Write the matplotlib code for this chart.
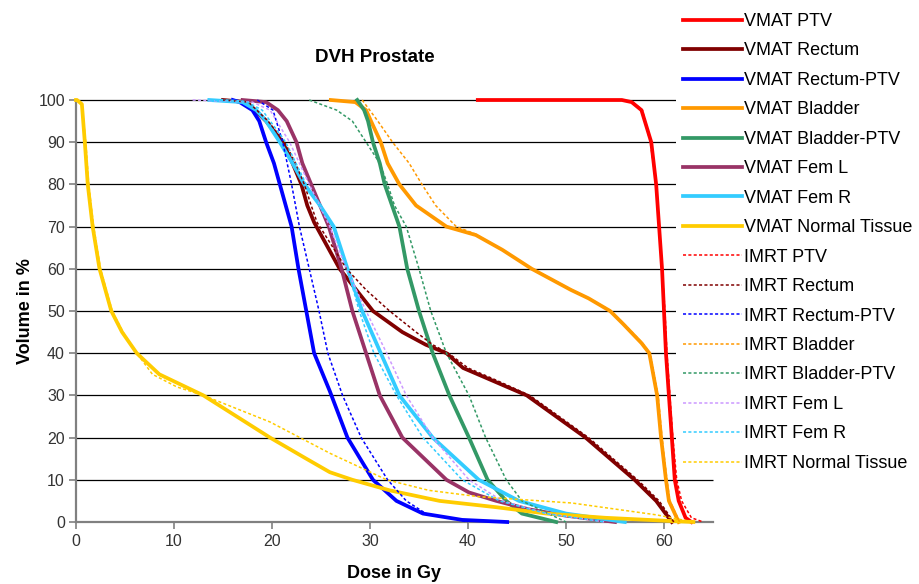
import matplotlib
matplotlib.use('Agg')
import matplotlib.pyplot as plt
import matplotlib.patches as mpatches

plt.rcParams['font.family'] = ['Liberation Sans', 'DejaVu Sans']

# ---- data (dose in Gy, volume in %) ----
vmat_ptv_dose = [41, 55.7, 56.7, 57.7, 58.7, 59.2, 59.5, 59.8, 60.0, 60.2, 60.5, 60.8, 61.1, 61.5, 62.2, 62.8]
vmat_ptv_vol = [100, 100, 99.5, 97.6, 90, 80, 70, 60, 50, 40, 30, 20, 10, 5, 1, 0]

vmat_rectum_dose = [15, 17.4, 19.4, 21.1, 22.1, 23.0, 23.6, 24.3, 26.9, 30.3, 33.3, 35.7, 37.8, 39.5, 42, 46, 52, 57, 59.2, 60.8]
vmat_rectum_vol = [100, 99.5, 95, 90, 85, 80, 75, 71, 60, 50, 45, 42, 40, 36.5, 34, 30, 20, 10, 5, 0]

vmat_rectum_ptv_dose = [16, 16.7, 18.0, 18.7, 19.4, 20.2, 20.8, 21.4, 22.0, 22.7, 23.5, 24.3, 25.9, 27.7, 30.3, 32.7, 35.4, 39.4, 44]
vmat_rectum_ptv_vol = [100, 99.5, 97.6, 95, 90, 85, 80, 75, 70, 60, 50, 40, 31, 20, 10, 5, 2, 0.5, 0]

vmat_bladder_dose = [26, 28.5, 29.6, 30.1, 31.1, 31.8, 33.0, 34.7, 37.8, 40.8, 43.5, 46.5, 50.5, 52.3, 54.5, 55.8, 57.7, 58.5, 59.3, 59.7, 60.2, 60.5, 61.5]
vmat_bladder_vol = [100, 99.5, 97.6, 95, 90, 85, 80, 75, 70, 68, 64.5, 60, 55, 53, 50, 47, 42.4, 40, 30, 20, 10, 5, 0]

vmat_bladder_ptv_dose = [28.7, 29.4, 29.8, 30.3, 31.0, 31.5, 33.0, 33.8, 35.0, 36.4, 38.1, 40.1, 42.0, 43.9, 45.5, 49]
vmat_bladder_ptv_vol = [100, 97.6, 95, 90, 85, 80, 70, 60, 50, 40, 30, 20, 10, 5, 2, 0]

vmat_fem_l_dose = [17, 19.4, 20.6, 21.5, 22.5, 23.1, 24.0, 24.9, 25.8, 27.1, 28.2, 29.6, 31.0, 33.3, 37.8, 40.1, 42.9, 46.2, 50, 55]
vmat_fem_l_vol = [100, 99.5, 97.6, 95, 90, 85, 80, 75, 70, 60, 50, 40, 30, 20, 10, 7, 5, 3, 1.5, 0]

vmat_fem_r_dose = [13.6, 17, 18.4, 19.4, 20.8, 22.1, 23.3, 24.9, 26.3, 27.7, 29.2, 31.1, 33.0, 36.4, 41.1, 45.2, 50, 56]
vmat_fem_r_vol = [100, 99.5, 97.6, 95, 90, 85, 80, 75, 70, 60, 50, 40, 30, 20, 10, 5, 2, 0]

vmat_nt_dose = [0, 0.1, 0.6, 0.9, 1.2, 1.7, 2.4, 3.6, 4.7, 6.2, 8.5, 13, 16.4, 19.8, 23.5, 25.9, 28.2, 32, 37.1, 42.9, 48, 54, 61, 63]
vmat_nt_vol = [100, 100, 99, 90, 80, 70, 60, 50, 45, 40, 35, 30, 25, 20, 15, 11.8, 10, 7.5, 5, 3.5, 2, 1, 0.2, 0]

imrt_ptv_dose = [41, 55.7, 56.8, 57.8, 58.6, 59.2, 59.5, 59.8, 60.1, 60.3, 60.6, 60.9, 61.3, 61.8, 62.8, 64]
imrt_ptv_vol = [100, 100, 99.5, 97.6, 90, 80, 70, 60, 50, 40, 30, 20, 10, 5, 1, 0]

imrt_rectum_dose = [15, 17.6, 19.6, 21.3, 22.4, 23.3, 24.0, 24.6, 27.6, 29.6, 32.0, 34.7, 36.4, 38.0, 40.0, 42.5, 46.3, 52.3, 57.3, 59.5, 61]
imrt_rectum_vol = [100, 99.5, 95, 90, 85, 80, 75, 71, 60, 55, 50, 45, 42, 40, 36.5, 34, 30, 20, 10, 5, 0]

imrt_rectum_ptv_dose = [18.5, 20.1, 21.1, 22.0, 22.8, 23.8, 24.8, 25.7, 27.2, 29.1, 31.8, 33.7, 35.7, 40]
imrt_rectum_ptv_vol = [100, 97.6, 90, 80, 70, 60, 50, 40, 30, 20, 10, 5, 2, 0]

imrt_bladder_dose = [29.2, 30.8, 32.3, 34.0, 35.3, 36.7, 38.8, 40.8, 42.5, 46.6, 50.6, 52.4, 54.6, 55.9, 57.8, 58.6, 59.4, 59.8, 60.3, 60.6, 61.6]
imrt_bladder_vol = [100, 95, 90, 85, 80, 75, 70, 68.2, 65.8, 60, 55, 53, 50, 47, 42.4, 40, 30, 20, 10, 5, 0]

imrt_bladder_ptv_dose = [23.8, 26.6, 28.2, 29.6, 31.0, 31.8, 32.5, 33.7, 35.0, 36.2, 37.8, 40.1, 41.8, 43.9, 45.5, 50]
imrt_bladder_ptv_vol = [100, 97.6, 95, 90, 85, 80, 75, 70, 60, 50, 40, 30, 20, 10, 5, 0]

imrt_fem_l_dose = [11.9, 18, 19.8, 21.8, 23.8, 25.9, 27.6, 29.6, 31.7, 33.7, 36.4, 40.1, 43.5, 48, 54]
imrt_fem_l_vol = [100, 99.5, 97.6, 90, 80, 70, 60, 50, 40, 30, 20, 10, 5, 2, 0]

imrt_fem_r_dose = [13.6, 17.5, 19, 21.4, 23.5, 26.2, 27.7, 28.9, 30.4, 32.7, 35.4, 39.4, 43.2, 48, 54]
imrt_fem_r_vol = [100, 99.5, 97.6, 90, 80, 70, 60, 50, 40, 30, 20, 10, 5, 2, 0]

imrt_nt_dose = [0, 0.1, 0.6, 1.0, 1.3, 1.8, 2.5, 3.7, 4.8, 6.2, 7.8, 10.3, 13, 19.8, 25.9, 31.7, 36, 41.1, 50.6, 59.2, 63]
imrt_nt_vol = [100, 100, 99, 90, 80, 70, 60, 50, 45, 40, 35, 32, 30, 23.7, 16.3, 10, 7.5, 6, 4.5, 1.7, 0]

structures = ['PTV', 'Rectum', 'Rectum-PTV', 'Bladder', 'Bladder-PTV', 'Fem L', 'Fem R', 'Normal Tissue']
vmat_colors = ['#ff0000', '#800000', '#0000ff', '#ff9900', '#339966', '#993366', '#33ccff', '#ffcc00']
imrt_colors = ['#ff0000', '#800000', '#0000ff', '#ff9900', '#339966', '#cc99ff', '#33ccff', '#ffcc00']

vmat_curves = [(vmat_ptv_dose, vmat_ptv_vol), (vmat_rectum_dose, vmat_rectum_vol),
               (vmat_rectum_ptv_dose, vmat_rectum_ptv_vol), (vmat_bladder_dose, vmat_bladder_vol),
               (vmat_bladder_ptv_dose, vmat_bladder_ptv_vol), (vmat_fem_l_dose, vmat_fem_l_vol),
               (vmat_fem_r_dose, vmat_fem_r_vol), (vmat_nt_dose, vmat_nt_vol)]
imrt_curves = [(imrt_ptv_dose, imrt_ptv_vol), (imrt_rectum_dose, imrt_rectum_vol),
               (imrt_rectum_ptv_dose, imrt_rectum_ptv_vol), (imrt_bladder_dose, imrt_bladder_vol),
               (imrt_bladder_ptv_dose, imrt_bladder_ptv_vol), (imrt_fem_l_dose, imrt_fem_l_vol),
               (imrt_fem_r_dose, imrt_fem_r_vol), (imrt_nt_dose, imrt_nt_vol)]

x_ticks = [0, 10, 20, 30, 40, 50, 60]
y_ticks = [0, 10, 20, 30, 40, 50, 60, 70, 80, 90, 100]

fig = plt.figure(figsize=(9.2, 5.84), dpi=100)
ax = fig.add_axes([76 / 920, 62 / 584, 637 / 920, 422 / 584])

# horizontal gridlines
ax.hlines(y_ticks[1:], 0, 65, colors='black', linewidth=0.9, zorder=1, clip_on=False)

for name, color, (d, v) in zip(structures, vmat_colors, vmat_curves):
    ax.plot(d, v, color=color, linewidth=2.7, label='VMAT ' + name, zorder=3,
            clip_on=False, solid_joinstyle='round')
for name, color, (d, v) in zip(structures, imrt_colors, imrt_curves):
    ax.plot(d, v, color=color, linewidth=1.1, linestyle=(0, (2, 1.5)), label='IMRT ' + name,
            zorder=4, clip_on=False)

ax.set_xlim(0, 65)
ax.set_ylim(0, 100)
ax.set_xticks(x_ticks)
ax.set_yticks(y_ticks)
ax.tick_params(axis='both', labelsize=11.5, labelcolor='#333333', color='#808080',
               length=5, width=1.2, direction='out')
ax.tick_params(axis='x', pad=4)
ax.tick_params(axis='y', pad=3)
for s in ['top', 'right']:
    ax.spines[s].set_visible(False)
for s in ['left', 'bottom']:
    ax.spines[s].set_color('#808080')
    ax.spines[s].set_linewidth(1.6)

ax.set_xlabel('Dose in Gy', fontsize=13, fontweight='bold', labelpad=11)
ax.set_ylabel('Volume in %', fontsize=13, fontweight='bold', labelpad=3)
fig.text(375 / 920, 1 - 58 / 584, 'DVH Prostate', fontsize=13.5, fontweight='bold',
         ha='center', va='center')

# white block where the legend sits over the right of the plot area
fig.patches.append(mpatches.Rectangle((676 / 920, 1 - 460 / 584), 244 / 920, 460 / 584,
                                      transform=fig.transFigure, facecolor='white',
                                      edgecolor='none', zorder=2))

handles, labels = ax.get_legend_handles_labels()
leg = fig.legend(handles, labels, loc='upper left', bbox_to_anchor=(683 / 920, 1 - 13 / 584),
                 fontsize=13, frameon=False, handlelength=3.25, handletextpad=0.15,
                 labelspacing=0.69, borderpad=0.0, borderaxespad=0.0)
leg.set_zorder(10)

fig.savefig('out.png', dpi=100)
